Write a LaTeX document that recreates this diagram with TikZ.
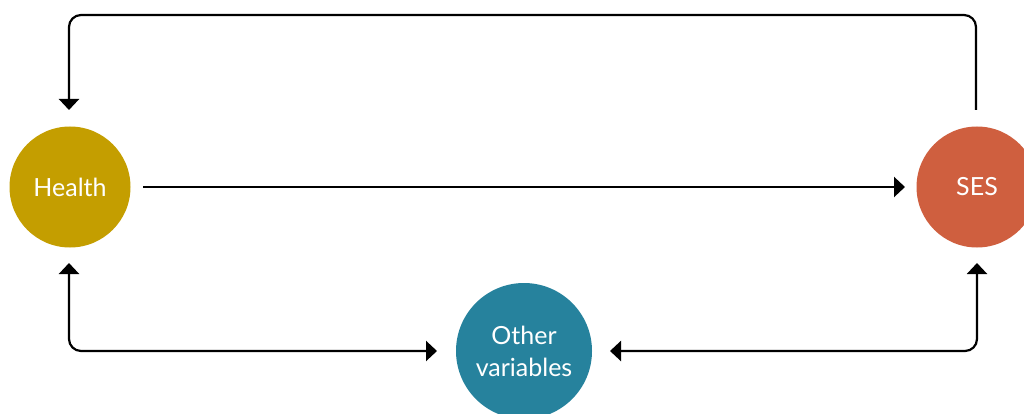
\documentclass[tikz,border=0pt]{standalone}
\usepackage{fontspec}
\setmainfont{Lato}
\usetikzlibrary{arrows.meta}
\definecolor{healthc}{HTML}{C49E00}
\definecolor{sesc}{HTML}{CF5F3F}
\definecolor{otherc}{HTML}{26829D}
\begin{document}
\begin{tikzpicture}[x=1pt,y=-1pt,
  blob/.style={circle,inner sep=0pt,text=white,font=\fontsize{25}{32}\selectfont,align=center},
  conn/.style={line width=2.2pt,rounded corners=12pt,-{Triangle[width=20pt,length=11pt]}},
  both/.style={conn,{Triangle[width=20pt,length=11pt]}-{Triangle[width=20pt,length=11pt]}}]
\useasboundingbox (0,0) rectangle (1024,414);
\node[blob,fill=healthc,minimum size=121pt] (health) at (70,187) {Health};
\node[blob,fill=sesc,minimum size=121pt] (ses) at (977,187) {SES};
\node[blob,fill=otherc,minimum size=136pt] (other) at (524,351) {Other\\variables};
\coordinate (topl) at (69,110);
\coordinate (topr) at (976,110);
\draw[conn] (topr) -- (976,15) -- (69,15) -- (topl);
\coordinate (hr) at (143,187);
\coordinate (sl) at (905,187);
\draw[conn] (hr) -- (sl);
\coordinate (hb) at (69,263);
\coordinate (sb) at (977,263);
\coordinate (ol) at (437,351);
\coordinate (or) at (610,351);
\draw[both] (hb) -- (69,351) -- (ol);
\draw[both] (or) -- (977,351) -- (sb);
\end{tikzpicture}
\end{document}
